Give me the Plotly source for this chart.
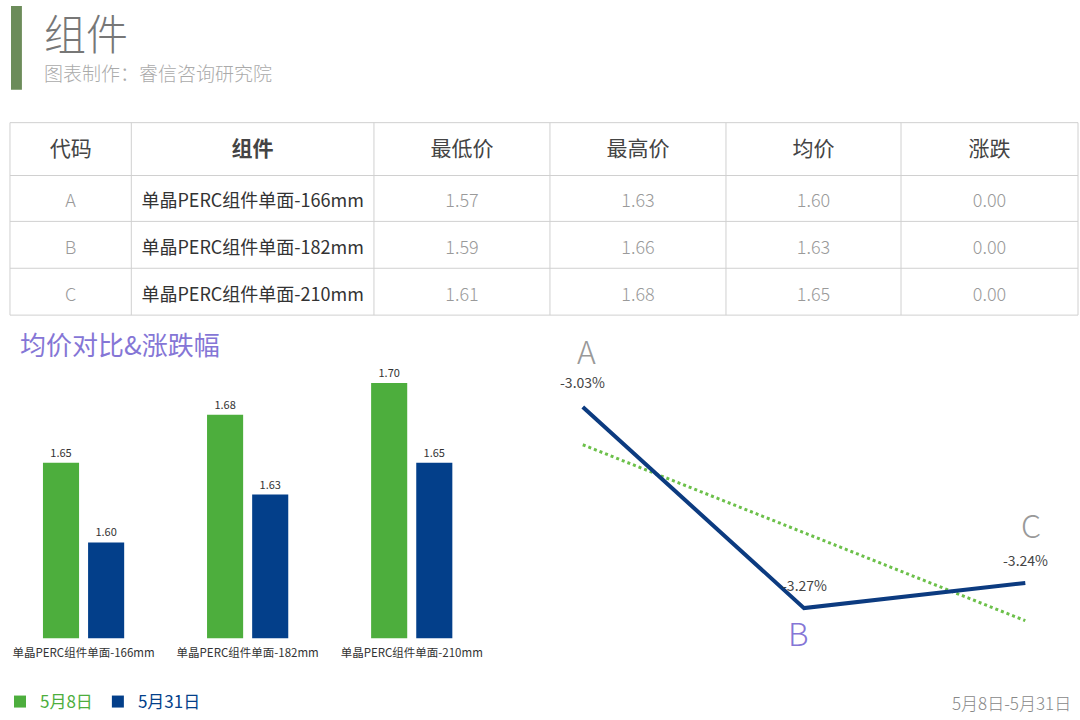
import numpy as np
import plotly.graph_objects as go

# ---------------- data ----------------
codes = ["A", "B", "C"]
products = ["单晶PERC组件单面-166mm", "单晶PERC组件单面-182mm", "单晶PERC组件单面-210mm"]
low_price = [1.57, 1.59, 1.61]
high_price = [1.63, 1.66, 1.68]
avg_price = [1.60, 1.63, 1.65]
change = [0.00, 0.00, 0.00]
table_headers = ["代码", "组件", "最低价", "最高价", "均价", "涨跌"]

series_names = ["5月8日", "5月31日"]
avg_may8 = [1.65, 1.68, 1.70]
avg_may31 = [1.60, 1.63, 1.65]

pct_change = [-3.03, -3.27, -3.24]
period_label = "5月8日-5月31日"

# ---------------- styling ----------------
W, H = 1080, 720
FONT = "Noto Sans CJK SC"
GREEN = "#4dae3d"
BLUE = "#033f8a"
NAVY = "#0c3b80"
PURPLE = "#8576d6"
GRID = "#d0d0d0"


def px_x(p):
    return p / W


def px_y(p):
    return 1 - p / H


fig = go.Figure()

# ---------------- table ----------------
col_edges = [4, 126, 370, 547, 724, 900, 1078]
row_edges = [123, 176, 222, 269, 316]
col_widths = [col_edges[i + 1] - col_edges[i] for i in range(len(col_edges) - 1)]
text_drop = 10  # plotly tables top-align text; push the text block down a little

fig.add_trace(go.Table(
    domain=dict(x=[px_x(col_edges[0]), px_x(col_edges[-1])],
                y=[px_y(row_edges[-1] + 40), px_y(row_edges[0] + text_drop)]),
    columnwidth=col_widths,
    header=dict(
        values=table_headers,
        height=row_edges[1] - row_edges[0],
        align="center",
        fill_color="rgba(0,0,0,0)",
        line=dict(width=0, color="rgba(0,0,0,0)"),
        font=dict(family=FONT, size=21, color="#444444",
                  weight=[400, 700, 400, 400, 400, 400]),
    ),
    cells=dict(
        values=[codes, products,
                [f"{v:.2f}" for v in low_price],
                [f"{v:.2f}" for v in high_price],
                [f"{v:.2f}" for v in avg_price],
                [f"{v:.2f}" for v in change]],
        height=47,
        align="center",
        fill_color="rgba(0,0,0,0)",
        line=dict(width=0, color="rgba(0,0,0,0)"),
        font=dict(family=FONT, size=18,
                  color=["#9a9a9a", "#333333", "#9a9a9a", "#9a9a9a", "#9a9a9a", "#9a9a9a"],
                  weight=[300, 400, 300, 300, 300, 300]),
    ),
))

# table grid lines
for yv in row_edges:
    fig.add_shape(type="line", xref="paper", yref="paper",
                  x0=px_x(col_edges[0]), x1=px_x(col_edges[-1]), y0=px_y(yv), y1=px_y(yv),
                  line=dict(color=GRID, width=1), layer="below")
for xv in col_edges:
    fig.add_shape(type="line", xref="paper", yref="paper",
                  x0=px_x(xv), x1=px_x(xv), y0=px_y(row_edges[0]), y1=px_y(row_edges[-1]),
                  line=dict(color=GRID, width=1), layer="below")

# ---------------- bar chart ----------------
fig.add_trace(go.Bar(
    x=products, y=avg_may8, name=f"<span style='color:{GREEN}'>{series_names[0]}</span>",
    marker=dict(color=GREEN, line=dict(width=0)), texttemplate="%{y:.2f}", textposition="outside",
    textfont=dict(family=FONT, size=11, color="#333333"), cliponaxis=False,
    xaxis="x", yaxis="y",
))
fig.add_trace(go.Bar(
    x=products, y=avg_may31, name=f"<span style='color:{BLUE}'>{series_names[1]}</span>",
    marker=dict(color=BLUE, line=dict(width=0)), texttemplate="%{y:.2f}", textposition="outside",
    textfont=dict(family=FONT, size=11, color="#333333"), cliponaxis=False,
    xaxis="x", yaxis="y",
))

# ---------------- line chart ----------------
xi = np.arange(len(pct_change))
slope, intercept = np.polyfit(xi, pct_change, 1)
trend = slope * xi + intercept

fig.add_trace(go.Scatter(
    x=xi, y=trend, mode="lines", line=dict(color="#6cc04a", width=3, dash="dot"),
    showlegend=False, xaxis="x2", yaxis="y2", hoverinfo="skip",
))
fig.add_trace(go.Scatter(
    x=xi, y=pct_change, mode="lines", line=dict(color=NAVY, width=4),
    showlegend=False, xaxis="x2", yaxis="y2",
))

# labels for line points
letter_colors = ["#999999", PURPLE, "#999999"]
letter_yshift = [57, -24, 59]
letter_xshift = [4, -6, 6]
value_yshift = [25, 23, 23]
for i, (c, v) in enumerate(zip(codes, pct_change)):
    fig.add_annotation(x=i, y=v, xref="x2", yref="y2", text=c, showarrow=False,
                       xshift=letter_xshift[i], yshift=letter_yshift[i],
                       font=dict(family=FONT, size=32, color=letter_colors[i], weight=300))
    fig.add_annotation(x=i, y=v, xref="x2", yref="y2", text=f"{v:.2f}%", showarrow=False,
                       yshift=value_yshift[i],
                       font=dict(family=FONT, size=14, color="#444444"))

# ---------------- titles & texts ----------------
fig.add_shape(type="rect", xref="paper", yref="paper",
              x0=px_x(5), x1=px_x(16), y0=px_y(90), y1=px_y(6),
              fillcolor="#6c8c5a", line=dict(width=0))
fig.add_annotation(xref="paper", yref="paper", x=px_x(36), y=px_y(32), xanchor="left",
                   yanchor="middle", text="组件", showarrow=False,
                   font=dict(family=FONT, size=42, color="#777777", weight=300))
fig.add_annotation(xref="paper", yref="paper", x=px_x(36), y=px_y(73), xanchor="left",
                   yanchor="middle", text="图表制作：睿信咨询研究院", showarrow=False,
                   font=dict(family=FONT, size=19, color="#aaaaaa", weight=300))
fig.add_annotation(xref="paper", yref="paper", x=px_x(12), y=px_y(344), xanchor="left",
                   yanchor="middle", text="均价对比&涨跌幅", showarrow=False,
                   font=dict(family=FONT, size=26, color=PURPLE))
fig.add_annotation(xref="paper", yref="paper", x=px_x(1073), y=px_y(704), xanchor="right",
                   yanchor="middle", text=period_label, showarrow=False,
                   font=dict(family=FONT, size=17, color="#888888", weight=300))

# ---------------- layout ----------------
group_px = 165
x_left = 78 - 0.45 * group_px
fig.update_layout(
    width=W, height=H,
    margin=dict(l=0, r=0, t=0, b=0),
    paper_bgcolor="white", plot_bgcolor="white",
    font=dict(family=FONT),
    barmode="group", bargap=0.45, bargroupgap=0.2,
    showlegend=True,
    legend=dict(orientation="h", x=-0.006, y=px_y(704), xanchor="left", yanchor="middle",
                font=dict(family=FONT, size=17), itemwidth=30, bgcolor="rgba(0,0,0,0)",
                traceorder="normal"),
    xaxis=dict(domain=[px_x(x_left), px_x(x_left + 3 * group_px)], range=[-0.45, 2.55],
               showgrid=False, zeroline=False, showline=False, ticks="",
               ticklabelstandoff=6,
               tickfont=dict(family=FONT, size=11.5, color="#333333"), fixedrange=True),
    yaxis=dict(domain=[px_y(640), px_y(352)], range=[1.54, 1.72], visible=False,
               fixedrange=True),
    xaxis2=dict(domain=[px_x(580 - 0.2 * 222.5), px_x(1025 + 0.2 * 222.5)],
                range=[-0.2, 2.2], visible=False, anchor="y2", fixedrange=True),
    yaxis2=dict(domain=[px_y(635), px_y(383)], range=[-3.30, -3.00], visible=False,
                anchor="x2", fixedrange=True),
)

fig.write_html("out.html", config={"displayModeBar": False},
               post_script="document.body.style.margin='0';document.body.style.overflow='hidden';")
